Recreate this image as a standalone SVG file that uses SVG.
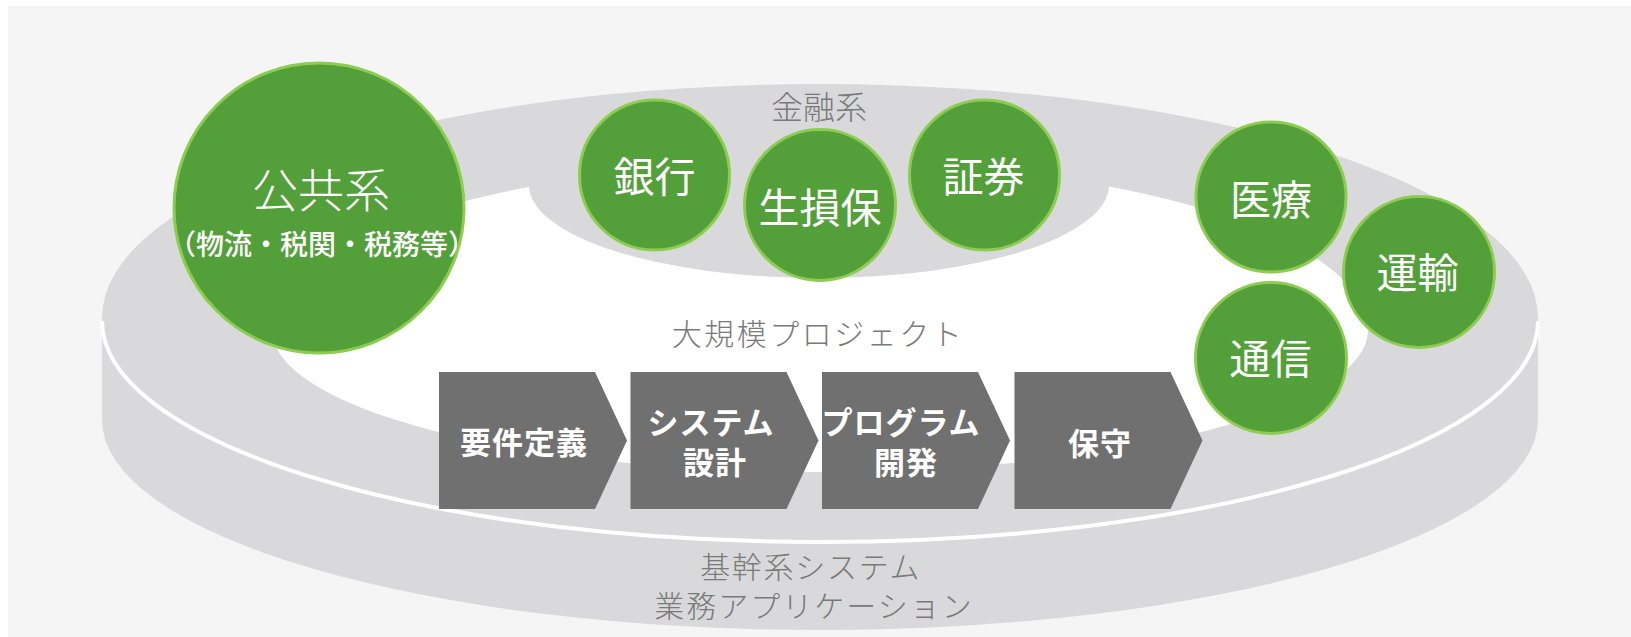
<svg xmlns="http://www.w3.org/2000/svg" width="1631" height="637" viewBox="0 0 1631 637">
  <style>
    .jp { font-family: "Noto Sans CJK JP", "Noto Sans", sans-serif; }
    .band { fill: #d9d9db; }
    .hole { fill: #ffffff; }
    .rim { fill: none; stroke: #ffffff; stroke-width: 4; }
    .bubble { fill: #539f3a; stroke: #8ccc50; stroke-width: 3; }
    .btxt { fill: #ffffff; font-size: 41px; font-weight: 400; text-anchor: middle; }
    .gray { fill: #7a7a7a; font-weight: 300; text-anchor: middle; }
    .chev { fill: #717071; }
    .ctxt { fill: #ffffff; font-size: 31px; font-weight: 700; text-anchor: middle; letter-spacing: 1px; }
  </style>
  <rect x="0" y="0" width="1631" height="637" fill="#ffffff"/>
  <rect x="8" y="6" width="1623" height="631" fill="#f5f5f5"/>

  <g id="platform">
    <path class="band" d="M 102 318 A 718 234 0 0 1 1538 318 L 1538 420 A 718 210 0 0 1 102 420 Z"/>
    <path class="rim" d="M 102 321 A 718 221 0 0 0 1538 321"/>
    <path class="hole" d="M 272 330 A 548 169 0 0 1 1368 330 A 548 142 0 0 1 272 330 Z"/>
    <ellipse class="band" cx="819" cy="185" rx="290" ry="93"/>
    <text class="jp gray" font-size="30">
      <tspan x="814" y="578" letter-spacing="1.7">基幹系システム</tspan>
      <tspan x="814" y="617" letter-spacing="2">業務アプリケーション</tspan>
    </text>
  </g>

  <g id="finance-label">
    <text class="jp gray" x="819" y="119" font-size="32">金融系</text>
  </g>

  <g id="project-label">
    <text class="jp gray" x="818" y="345" font-size="30" letter-spacing="2.5">大規模プロジェクト</text>
  </g>

  <g id="node-public">
    <circle class="bubble" cx="319" cy="208" r="145"/>
    <text class="jp" x="321" y="207" font-size="46" font-weight="300" fill="#ffffff" text-anchor="middle">公共系</text>
    <text class="jp" x="322" y="255" font-size="28" font-weight="500" fill="#ffffff" text-anchor="middle">（物流・税関・税務等）</text>
  </g>

  <g id="node-bank">
    <circle class="bubble" cx="654.5" cy="175" r="75"/>
    <text class="jp btxt" x="654.5" y="192">銀行</text>
  </g>
  <g id="node-insurance">
    <circle class="bubble" cx="820" cy="205" r="75.5"/>
    <text class="jp btxt" x="820" y="223">生損保</text>
  </g>
  <g id="node-securities">
    <circle class="bubble" cx="984.5" cy="175" r="75"/>
    <text class="jp btxt" x="983.5" y="192">証券</text>
  </g>
  <g id="node-medical">
    <circle class="bubble" cx="1271" cy="197" r="75"/>
    <text class="jp btxt" x="1271" y="214.5">医療</text>
  </g>
  <g id="node-transport">
    <circle class="bubble" cx="1419" cy="272" r="75.5"/>
    <text class="jp btxt" x="1417.5" y="287.5">運輸</text>
  </g>
  <g id="node-telecom">
    <circle class="bubble" cx="1271" cy="358" r="75.5"/>
    <text class="jp btxt" x="1270.5" y="374">通信</text>
  </g>

  <g id="step-requirements">
    <path class="chev" d="M 439 372 L 595 372 L 627 440.5 L 595 509 L 439 509 Z"/>
    <text class="jp ctxt" x="524" y="454">要件定義</text>
  </g>
  <g id="step-design">
    <path class="chev" d="M 630.5 372 L 786.5 372 L 818.5 440.5 L 786.5 509 L 630.5 509 Z"/>
    <text class="jp ctxt">
      <tspan x="715" y="434">システム</tspan>
      <tspan x="715" y="474">設計</tspan>
    </text>
  </g>
  <g id="step-development">
    <path class="chev" d="M 822 372 L 978 372 L 1010 440.5 L 978 509 L 822 509 Z"/>
    <text class="jp ctxt">
      <tspan x="905" y="433.5">プログラム</tspan>
      <tspan x="906" y="474">開発</tspan>
    </text>
  </g>
  <g id="step-maintenance">
    <path class="chev" d="M 1014.5 372 L 1170.5 372 L 1202.5 440.5 L 1170.5 509 L 1014.5 509 Z"/>
    <text class="jp ctxt" x="1100" y="455">保守</text>
  </g>
</svg>
